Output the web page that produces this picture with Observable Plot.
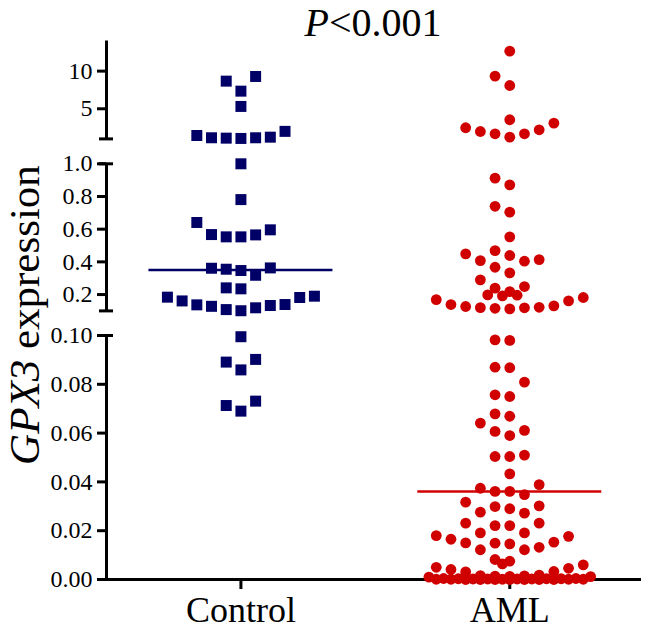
<!DOCTYPE html>
<html>
<head>
<meta charset="utf-8">
<script src="https://cdn.jsdelivr.net/npm/d3@7"></script>
<script src="https://cdn.jsdelivr.net/npm/@observablehq/plot@0.6"></script>
<style>
  body { margin: 0; background: #fff; }
  #chart { position: relative; width: 650px; height: 632px; font-family: "Liberation Serif", "Times New Roman", serif; color: #000; }
  #chart svg { position: absolute; left: 0; overflow: visible; }
  #chart svg, #chart svg g, #chart svg text { font-family: "Liberation Serif", "Times New Roman", serif !important; }
  #chart svg text { fill: #000; }
  #chart g[aria-label^="y-axis"] line, #chart g[aria-label^="y-axis"] path,
  #chart g[aria-label^="x-axis"] line, #chart g[aria-label^="x-axis"] path { stroke-width: 3px; stroke: #000; }
  #chart g[aria-label^="y-axis"] text { font-size: 24px; }
  #chart g[aria-label^="x-axis"] text { font-size: 36px; }
  .title { position: absolute; left: 373px; top: 3px; transform: translateX(-50%); font-size: 40px; line-height: 40px; white-space: nowrap; z-index: 2; }
  .ylabel { position: absolute; left: 24px; top: 315px; transform: translate(-50%, -50%) rotate(-90deg); font-size: 43px; line-height: 43px; white-space: nowrap; z-index: 2; }
</style>
</head>
<body>
<div id="chart"></div>
<script>
// ---------------- data ----------------
const groups = ["Control", "AML"];
const titleItalic = "P";
const titleRest = "<0.001";
const yLabelItalic = "GPX3";
const yLabelRest = " expression";

const controlValues = [
  9.29, 8.67, 7.34, 5.31, 2.0, 1.45, 1.23, 1.15, 1.15, 1.10, 1.06,
  1.0, 0.781, 0.641, 0.596, 0.567, 0.565, 0.553, 0.553,
  0.363, 0.361, 0.355, 0.347, 0.318, 0.241, 0.235,
  0.190, 0.184, 0.182, 0.161, 0.139, 0.137, 0.133, 0.128, 0.119, 0.108, 0.101,
  0.0995, 0.0902, 0.0891, 0.0859, 0.0731, 0.0713, 0.0690
];

const amlValues = [
  12.65, 9.33, 8.09, 3.54, 3.09, 2.48, 2.21, 1.98, 1.68, 1.68, 1.23,
  0.912, 0.871, 0.740, 0.704, 0.553, 0.469, 0.449, 0.439, 0.414, 0.408, 0.404,
  0.367, 0.333, 0.290, 0.249, 0.239, 0.218, 0.198, 0.196, 0.192,
  0.182, 0.169, 0.161, 0.139, 0.131, 0.127, 0.122, 0.120, 0.119, 0.116, 0.112,
  0.0982, 0.0980, 0.0870, 0.0868, 0.0809, 0.0757, 0.0750, 0.0679, 0.0669, 0.0641,
  0.0611, 0.0607, 0.0590, 0.0510, 0.0504, 0.0504,
  0.0433,
  0.0389, 0.0374, 0.0361, 0.0361, 0.0348,
  0.0317, 0.0302, 0.0299, 0.0290, 0.0276, 0.0272,
  0.0231, 0.0231, 0.0221, 0.0221, 0.0191, 0.0191,
  0.0180, 0.0177, 0.0165, 0.0153, 0.0150, 0.0149, 0.0146, 0.0132, 0.0122, 0.0122,
  0.0082, 0.0075, 0.0064, 0.0060,
  0.0050, 0.0046, 0.0041, 0.0033, 0.0031,
  0.0018, 0.0016, 0.0015, 0.0014, 0.0013, 0.0012, 0.0010,
  0.0004, 0.0004, 0.0003, 0.0003, 0.0003, 0.0002, 0.0002, 0.0002, 0.0002, 0.0001,
  0.0001, 0.0001, 0.0001, 0.0001, 0, 0, 0, 0, 0, 0, 0
];

const topTicks = [5, 10];
const middleTicks = [0.2, 0.4, 0.6, 0.8, 1.0];
const bottomTicks = [0, 0.02, 0.04, 0.06, 0.08, 0.10];

// ---------------- layout / style ----------------
const colors = {Control: "#000066", AML: "#d10000"};
const W = 650, marginLeft = 106, marginRight = 9;
const xDomain = [-0.5, 1.49];
const pxPerUnit = (W - marginLeft - marginRight) / (xDomain[1] - xDomain[0]);
const colStep = 14.7 / pxPerUnit;      // horizontal spacing of swarm columns
const collide = 15;                     // vertical collision distance in px
const maxCol = 5;
const medianHalf = 92 / pxPerUnit;
const capHalf = 7 / pxPerUnit;

const segments = [
  {domain: [1, 14], ticks: topTicks, fmt: d3.format("d"), top: 0, height: 150, mt: 40.5, mb: 11.6, caps: [1], pick: v => v > 1},
  {domain: [0.1, 1], ticks: middleTicks, fmt: d3.format(".1f"), top: 150, height: 175, mt: 13.3, mb: 14.6, caps: [0.1, 1], pick: v => v >= 0.1 && v <= 1},
  {domain: [0, 0.1], ticks: bottomTicks, fmt: d3.format(".2f"), top: 325, height: 307, mt: 10, mb: 53, caps: [0.1], pick: v => v < 0.1, xAxis: true}
];

const series = [
  {group: "Control", gi: 0, values: controlValues, symbol: "square", r: 6.2},
  {group: "AML", gi: 1, values: amlValues, symbol: "circle", r: 5.4}
];

// column beeswarm (GraphPad style): sorted ascending, centre first, then -1, +1, ...
function swarm(values, yPix) {
  const order = d3.sort(d3.range(values.length), i => values[i]);
  const cands = [0];
  for (let k = 1; k <= maxCol; k++) cands.push(-k, k);
  for (let k = 0; k <= maxCol; k++) cands.push(-(k + 0.5), k + 0.5);
  const occ = new Map();
  const cols = new Array(values.length);
  for (const i of order) {
    const y = yPix(values[i]);
    let best = 0, bestN = Infinity;
    for (const c of cands) {
      const ys = occ.get(c) || [];
      const n = ys.filter(o => Math.abs(o - y) < collide).length;
      if (n === 0) { best = c; bestN = 0; break; }
      if (n < bestN) { bestN = n; best = c; }
    }
    cols[i] = best;
    if (!occ.has(best)) occ.set(best, []);
    occ.get(best).push(y);
  }
  return cols;
}

const medians = series.map(s => ({group: s.group, gi: s.gi, value: d3.median(s.values)}));

const chart = document.getElementById("chart");

const title = document.createElement("div");
title.className = "title";
const ti = document.createElement("i"); ti.textContent = titleItalic;
title.appendChild(ti); title.appendChild(document.createTextNode(titleRest));
chart.appendChild(title);

const ylab = document.createElement("div");
ylab.className = "ylabel";
const yi = document.createElement("i"); yi.textContent = yLabelItalic;
ylab.appendChild(yi); ylab.appendChild(document.createTextNode(yLabelRest));
chart.appendChild(ylab);

for (const seg of segments) {
  const yPix = d3.scaleLinear(seg.domain, [seg.height - seg.mb, seg.mt]);
  const marks = [];
  // y axis line and break caps
  marks.push(Plot.ruleX([xDomain[0]], {stroke: "#000", strokeWidth: 3}));
  marks.push(Plot.ruleY(seg.caps, {x1: xDomain[0] - capHalf, x2: xDomain[0] + capHalf, stroke: "#000", strokeWidth: 3}));
  if (seg.xAxis) marks.push(Plot.ruleY([0], {stroke: "#000", strokeWidth: 3}));
  // median lines
  const meds = medians.filter(m => seg.pick(m.value));
  marks.push(Plot.ruleY(meds, {
    y: "value", x1: d => d.gi - medianHalf, x2: d => d.gi + medianHalf,
    stroke: d => colors[d.group], strokeWidth: 2.5
  }));
  // dots
  for (const s of series) {
    const vals = s.values.filter(seg.pick);
    const cols = swarm(vals, yPix);
    const data = vals.map((v, i) => ({group: s.group, value: v, x: s.gi + cols[i] * colStep}));
    marks.push(Plot.dot(data, {x: "x", y: "value", symbol: s.symbol, r: s.r, fill: colors[s.group], stroke: "none"}));
  }
  const svg = Plot.plot({
    width: W,
    height: seg.height,
    marginLeft, marginRight,
    marginTop: seg.mt,
    marginBottom: seg.mb,
    style: {fontFamily: "'Liberation Serif', 'Times New Roman', serif", fontSize: "24px", color: "#000", background: "transparent", overflow: "visible"},
    x: {
      domain: xDomain,
      axis: seg.xAxis ? "bottom" : null,
      ticks: [0, 1],
      tickFormat: i => groups[i],
      tickSize: 10,
      tickPadding: 7,
      label: null
    },
    y: {
      domain: seg.domain,
      ticks: seg.ticks,
      tickFormat: seg.fmt,
      tickSize: 9,
      tickPadding: 5,
      label: null
    },
    marks
  });
  svg.style.top = seg.top + "px";
  chart.appendChild(svg);
}
</script>
</body>
</html>
